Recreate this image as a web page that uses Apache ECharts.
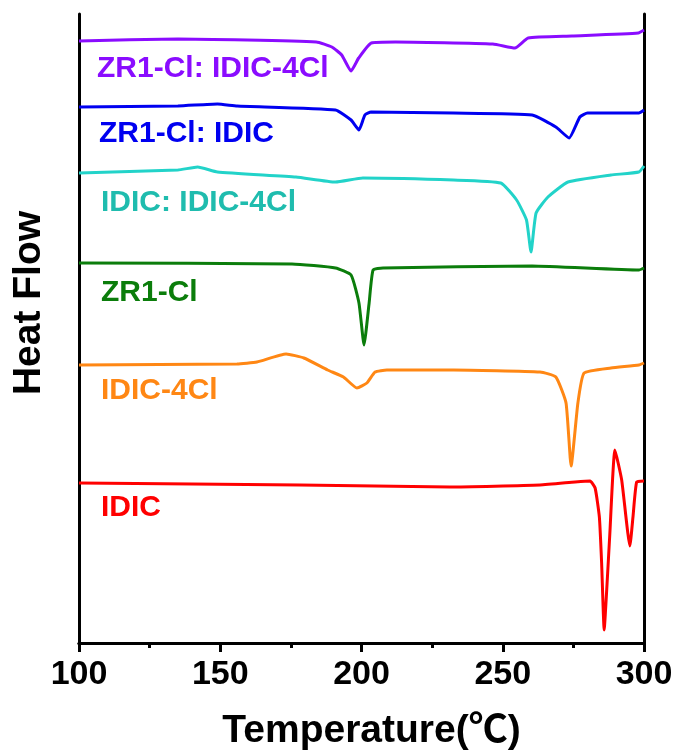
<!DOCTYPE html>
<html>
<head>
<meta charset="utf-8">
<title>DSC Heat Flow</title>
<script src="https://cdn.jsdelivr.net/npm/echarts@6/dist/echarts.min.js"></script>
<style>
    html, body { margin: 0; padding: 0; background: #fff; }
    #chart { width: 677px; height: 756px; }
</style>
</head>
<body>
<div id="chart"></div>
<script>
// 曲线名称 (从上到下)
var names = ['ZR1-Cl: IDIC-4Cl', 'ZR1-Cl: IDIC', 'IDIC: IDIC-4Cl', 'ZR1-Cl', 'IDIC-4Cl', 'IDIC'];
var lineColors = ['#8a0cff', '#0000f0', '#22d3c9', '#0b7d0b', '#ff8714', '#ff0000'];
var textColors = ['#8a0cff', '#0000f0', '#1fbcae', '#0b7d0b', '#ff8714', '#ff0000'];
var xTicks = [100, 150, 200, 250, 300];

// [温度, 热流(任意单位, 已叠加偏移)]
var zr1IdicCl = [[100, 602], [135, 604], [184, 601], [189.5, 596], [193, 588], [196.3, 572], [199, 585],
    [203.5, 600], [212, 601], [246.5, 599], [254.3, 595], [259, 605], [274.5, 607], [298, 610], [300, 613]];
var zr1Idic = [[100, 536], [135, 537], [149, 539], [156, 537], [190.8, 533], [196.3, 523], [199.1, 513],
    [201.2, 528], [203.4, 531], [232.6, 530], [260.4, 528], [268.8, 516], [273.5, 505], [277.3, 526],
    [280, 530], [298.2, 530], [300, 533]];
var idicIdicCl = [[100, 470], [135, 473], [142, 476], [149, 471], [176.8, 466], [190.8, 461], [200.5, 465],
    [232.6, 463], [249.3, 460], [254.9, 443], [258.4, 423], [260, 391], [261.8, 430], [266, 446],
    [273.1, 461], [288.3, 468], [298.2, 471], [300, 477]];
var zr1Cl = [[100, 380], [175.4, 379], [190.8, 375], [196.3, 368], [199.1, 340], [200.9, 298], [202.7, 340],
    [204.1, 373], [207.6, 375], [260.4, 377], [298.2, 373], [300, 375]];
var idicCl = [[100, 278], [155.9, 279], [163, 281], [173.3, 289], [179.6, 285], [188, 273], [193.6, 266],
    [198.4, 255], [201.9, 260], [204.8, 271], [209, 273], [232.6, 273], [263.2, 271], [268.8, 266],
    [272.4, 240], [274.2, 177], [276.6, 240], [278.8, 270], [288.3, 275], [298.2, 278], [300, 280]];
var idic = [[100, 160], [178.2, 158], [231.3, 156], [263.2, 158], [275.6, 161], [280.9, 162], [282.7, 155],
    [284.2, 126], [285, 80], [285.9, 13], [286.9, 58], [287.9, 109], [289.7, 193], [292.1, 163],
    [295, 97], [296.1, 126], [297.4, 161], [300, 162]];

var allData = [zr1IdicCl, zr1Idic, idicIdicCl, zr1Cl, idicCl, idic];
// 标签位置 (像素)
var labelY = [68, 133, 202, 292, 390, 507];

(function () {
    var myChart = echarts.init(document.getElementById('chart'));
    var font = "'Liberation Sans', Arial, 'Noto Sans CJK SC', sans-serif";
    var black = { color: '#000', width: 3 };

    var series = allData.map(function (d, i) {
        return {
            name: names[i],
            type: 'line',
            data: d,
            showSymbol: false,
            smooth: 0.15,
            lineStyle: { color: lineColors[i], width: 3 },
            z: 3
        };
    });

    var graphics = names.map(function (n, i) {
        return {
            type: 'text',
            left: i === 0 ? 97 : (i === 1 ? 99 : 101),
            top: labelY[i] - 14,
            style: {
                text: n,
                fill: textColors[i],
                font: 'bold 30px ' + font
            },
            z: 10
        };
    });
    // 纵轴标题 (不在坐标轴正中, 单独放置)
    graphics.push({
        type: 'text',
        x: 29,
        y: 303,
        rotation: Math.PI / 2,
        style: {
            text: 'Heat Flow',
            fill: '#000',
            font: 'bold 39px ' + font,
            align: 'center',
            verticalAlign: 'middle'
        }
    });

    var option = {
        animation: false,
        grid: { left: 79, right: 33, top: 14, bottom: 113 },
        xAxis: [
            {
                type: 'value',
                min: xTicks[0],
                max: xTicks[xTicks.length - 1],
                interval: 50,
                position: 'bottom',
                name: 'Temperature(℃)',
                nameLocation: 'middle',
                nameGap: 69,
                nameTextStyle: {
                    color: '#000', fontSize: 39, fontWeight: 'bold', fontFamily: font,
                    padding: [0, 0, 0, 20]
                },
                axisLine: { show: true, lineStyle: black },
                axisTick: { show: true, length: 9, lineStyle: black },
                minorTick: { show: true, splitNumber: 2, length: 5, lineStyle: black },
                axisLabel: {
                    color: '#000', fontSize: 34, fontWeight: 'bold', fontFamily: font, margin: 15,
                    showMinLabel: true, showMaxLabel: true
                },
                splitLine: { show: false }
            },
            {
                type: 'value',
                min: xTicks[0],
                max: xTicks[xTicks.length - 1],
                position: 'top',
                axisLine: { show: true, lineStyle: black },
                axisTick: { show: false },
                axisLabel: { show: false },
                splitLine: { show: false }
            }
        ],
        yAxis: [
            {
                type: 'value',
                min: 0,
                max: 629,
                position: 'left',
                axisLine: { show: true, lineStyle: black },
                axisTick: { show: false },
                axisLabel: { show: false },
                splitLine: { show: false }
            },
            {
                type: 'value',
                min: 0,
                max: 629,
                position: 'right',
                axisLine: { show: true, lineStyle: black },
                axisTick: { show: false },
                axisLabel: { show: false },
                splitLine: { show: false }
            }
        ],
        graphic: graphics,
        series: series
    };

    myChart.setOption(option);
    window.addEventListener('resize', function () {
        myChart.resize();
    });
})();
</script>
</body>
</html>
